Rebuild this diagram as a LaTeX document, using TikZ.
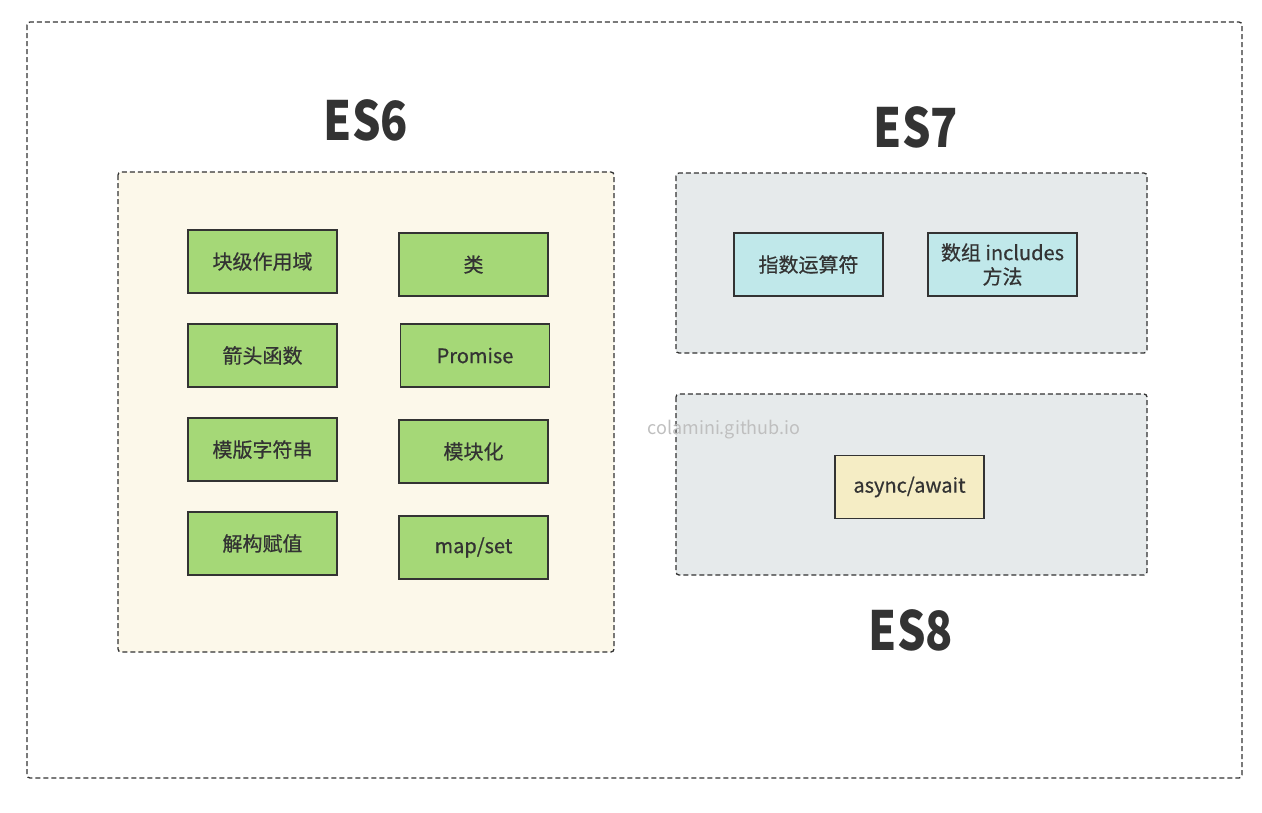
\documentclass[tikz,border=0pt]{standalone}
\usepackage{fontspec}
\setmainfont{Noto Sans CJK SC}
\newfontfamily\featfont{Noto Sans CJK SC}[RawFeature={embolden=0.6}]
\usetikzlibrary{positioning}
\definecolor{inkgray}{HTML}{333333}
\definecolor{es6bg}{HTML}{FCF8EA}
\definecolor{es7bg}{HTML}{E6EAEB}
\definecolor{featgreen}{HTML}{A5D877}
\definecolor{featcyan}{HTML}{C0E8EA}
\definecolor{featyellow}{HTML}{F5EDC5}
\newcommand{\estitle}[1]{\scalebox{0.83}[1]{#1}}
\tikzset{
  panel/.style={draw=inkgray, line width=1.3pt, dash pattern=on 5pt off 3pt, rounded corners=3pt},
  feat/.style={draw=inkgray, line width=1.2pt, minimum width=149pt, minimum height=63pt,
    inner sep=0pt, align=center, text=inkgray, font=\featfont\fontsize{20}{24}\selectfont},
  title/.style={text=inkgray, font=\fontsize{54}{60}\selectfont\bfseries},
}
\begin{document}
\begin{tikzpicture}[x=1pt,y=-1pt]
        \useasboundingbox[fill=white] (0,0) rectangle (1262,812);
        \draw[panel] (27,22) rectangle (1242,778);
        \draw[panel,fill=es6bg] (118,172) rectangle (614,652);
        \draw[panel,fill=es7bg] (676,173) rectangle (1147,353);
        \draw[panel,fill=es7bg] (676,394) rectangle (1147,575);
        \node[title] (es6) at (366,120) {\estitle{ES6}};
        \node[title] (es7) at (916,127) {\estitle{ES7}};
        \node[title] (es8) at (911,630) {\estitle{ES8}};
        % ES6
        \node[feat,fill=featgreen] (block) at (262.5,261.5) {块级作用域};
        \node[feat,fill=featgreen] (class) at (473.5,264.5) {类};
        \node[feat,fill=featgreen] (arrow) at (262.5,355.5) {箭头函数};
        \node[feat,fill=featgreen] (promise) at (475,355.5) {Promise};
        \node[feat,fill=featgreen] (tmpl) at (262.5,449.5) {模版字符串};
        \node[feat,fill=featgreen] (module) at (473.5,451.5) {模块化};
        \node[feat,fill=featgreen] (destr) at (262.5,543.5) {解构赋值};
        \node[feat,fill=featgreen] (mapset) at (473.5,547.5) {map/set};
        % ES7
        \node[feat,fill=featcyan] (expo) at (808.5,264.5) {指数运算符};
        \node[feat,fill=featcyan] (incl) at (1002.5,264.5) {数组 includes\\方法};
        % ES8
        \node[feat,fill=featyellow] (async) at (909.5,487) {async/await};
        \node[text=black!25, font=\fontsize{18}{20}\selectfont] (mark) at (724,430) {colamini.github.io};
\end{tikzpicture}
\end{document}
